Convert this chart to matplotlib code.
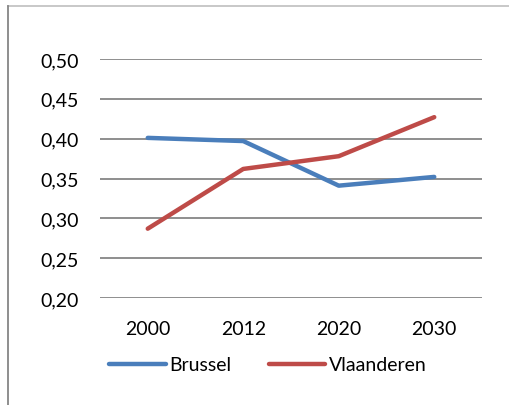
import matplotlib
matplotlib.use("Agg")
import matplotlib.pyplot as plt
from matplotlib.lines import Line2D

years = ["2000", "2012", "2020", "2030"]
brussel = [0.401, 0.397, 0.341, 0.352]
vlaanderen = [0.287, 0.362, 0.378, 0.427]
yticks = [0.20, 0.25, 0.30, 0.35, 0.40, 0.45, 0.50]
ytick_labels = ["0,20", "0,25", "0,30", "0,35", "0,40", "0,45", "0,50"]

plt.rcParams['font.family'] = ['Lato', 'DejaVu Sans']

fig = plt.figure(figsize=(5.10, 4.06), dpi=100)
ax = fig.add_axes([100/510, 1-299/406, 382/510, 239/406])

x = range(len(years))
ax.plot(x, brussel, color="#4A7EBB", lw=3.2, solid_capstyle="round", label="Brussel", zorder=3)
ax.plot(x, vlaanderen, color="#BE4B48", lw=3.2, solid_capstyle="round", label="Vlaanderen", zorder=3)

ax.set_xlim(-0.5, len(years)-0.5)
ax.set_ylim(0.20, 0.50)
ax.set_yticks(yticks)
ax.set_yticklabels(ytick_labels)
ax.set_xticks(list(x))
ax.set_xticklabels(years)
ax.grid(axis="y", color="#868686", lw=1.3)
ax.set_axisbelow(True)
for s in ax.spines.values():
    s.set_visible(False)
ax.tick_params(axis="both", length=0, labelsize=14, colors="#000000")
ax.tick_params(axis="y", pad=15)
ax.tick_params(axis="x", pad=16)

handles = [Line2D([], [], color="#4A7EBB", lw=3.2, solid_capstyle="round"),
           Line2D([], [], color="#BE4B48", lw=3.2, solid_capstyle="round")]
fig.legend(handles, ["Brussel", "Vlaanderen"], loc="center", bbox_to_anchor=(268/510, 1-366/406),
           ncol=2, frameon=False, fontsize=14, handlelength=2.9, handletextpad=0.2,
           columnspacing=1.9)

# chart border (top and left)
fig.add_artist(Line2D([8/510, 1.0], [1-7/406, 1-7/406], transform=fig.transFigure, color="#BFBFBF", lw=1.2))
fig.add_artist(Line2D([8/510, 8/510], [1-7/406, 0.0], transform=fig.transFigure, color="#868686", lw=1.3))

fig.savefig("out.png", dpi=100)
